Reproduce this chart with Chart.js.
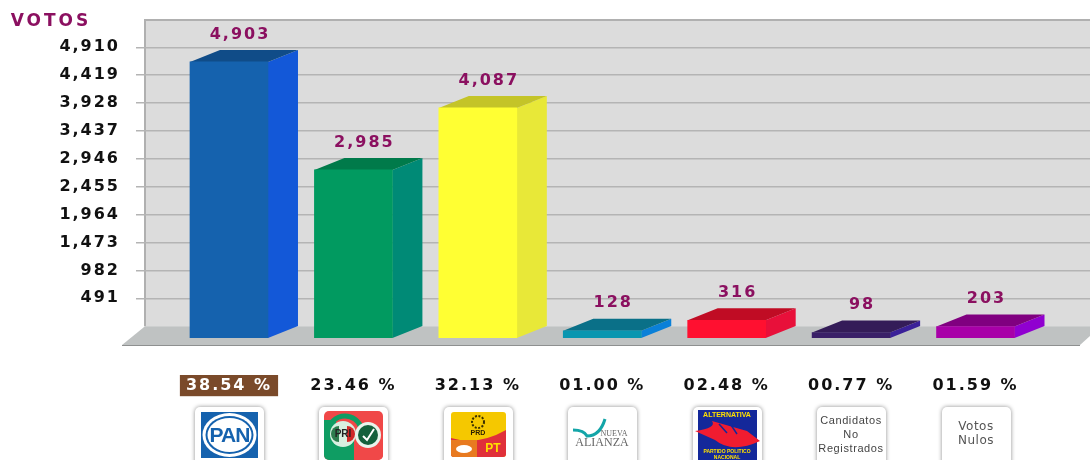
<!DOCTYPE html>
<html>
<head>
<meta charset="utf-8">
<title>Votos</title>
<script src="https://cdn.jsdelivr.net/npm/chart.js@4"></script>
<style>
  html, body { margin: 0; padding: 0; background: #fff; overflow: hidden; }
  canvas { display: block; }
</style>
</head>
<body>
<canvas id="chart" width="1090" height="460"></canvas>
<script>
const categories = ['PAN', 'PRI-PVEM', 'PRD-PT', 'Nueva Alianza', 'Alternativa', 'Candidatos No Registrados', 'Votos Nulos']
const votes = [4903, 2985, 4087, 128, 316, 98, 203]
const percents = ['38.54 %', '23.46 %', '32.13 %', '01.00 %', '02.48 %', '00.77 %', '01.59 %']
const tickValues = [491, 982, 1473, 1964, 2455, 2946, 3437, 3928, 4419, 4910]

const frontColors = ['#1562ae', '#019a60', '#ffff33', '#0a96b0', '#ff1030', '#3a2068', '#a800a8']
const sideColors = ['#1358d8', '#008a76', '#e8e838', '#0a80d8', '#e8103a', '#3a2098', '#9000d0']
const topColors = ['#104c88', '#007a4a', '#c4c428', '#0a7088', '#c00c24', '#341c58', '#800080']

const PURPLE = '#8b1060'
const DEPTH_X = 30
const DEPTH_Y = 12
const SPACING = '2px'

function roundRect(ctx, x, y, w, h, r) {
  ctx.beginPath()
  ctx.roundRect(x, y, w, h, r)
}

function centerText(ctx, text, x, y, font, color) {
  ctx.font = font
  ctx.fillStyle = color
  ctx.textAlign = 'center'
  ctx.textBaseline = 'middle'
  ctx.fillText(text, x, y)
}

// small party logos under the percentages
const logos = {
  'PAN'(ctx, c) {
    ctx.fillStyle = '#1562ae'
    ctx.fillRect(c - 28, 412, 57, 46)
    ctx.fillStyle = '#fff'
    ctx.beginPath(); ctx.ellipse(c + 0.5, 435, 27, 22, 0, 0, Math.PI * 2); ctx.fill()
    ctx.fillStyle = '#1562ae'
    ctx.beginPath(); ctx.ellipse(c + 0.5, 435, 24, 19, 0, 0, Math.PI * 2); ctx.fill()
    ctx.fillStyle = '#fff'
    ctx.beginPath(); ctx.ellipse(c + 0.5, 435, 22, 17, 0, 0, Math.PI * 2); ctx.fill()
    ctx.letterSpacing = '-1px'
    centerText(ctx, 'PAN', c + 0.5, 436, 'bold 21px "Liberation Sans"', '#1562ae')
  },
  'PRI-PVEM'(ctx, c) {
    roundRect(ctx, c - 29, 411, 59, 49, 5)
    ctx.save(); ctx.clip()
    ctx.fillStyle = '#f04848'
    ctx.fillRect(c - 29, 411, 59, 49)
    ctx.fillStyle = '#0f9d63'
    ctx.fillRect(c - 29, 440, 30, 20)
    ctx.fillRect(c - 29, 420, 12, 20)
    ctx.fillStyle = '#f04848'
    ctx.fillRect(c + 1, 444, 29, 16)
    ctx.strokeStyle = '#0f9d63'
    ctx.lineWidth = 5
    ctx.beginPath(); ctx.arc(c - 8, 433, 17, Math.PI, Math.PI * 1.9); ctx.stroke()
    ctx.restore()
    ctx.fillStyle = '#d8efe0'
    ctx.beginPath(); ctx.arc(c - 10, 434, 13, 0, Math.PI * 2); ctx.fill()
    ctx.fillStyle = '#2e7d4e'
    ctx.beginPath(); ctx.arc(c - 14, 434, 8, Math.PI / 2, Math.PI * 1.5); ctx.fill()
    ctx.fillStyle = '#d02828'
    ctx.beginPath(); ctx.arc(c - 6, 434, 8, -Math.PI / 2, Math.PI / 2); ctx.fill()
    centerText(ctx, 'PRI', c - 10, 434, 'bold 10px "Liberation Sans"', '#222')
    ctx.fillStyle = '#e8f4ec'
    ctx.beginPath(); ctx.arc(c + 15, 435, 13, 0, Math.PI * 2); ctx.fill()
    ctx.fillStyle = '#14603c'
    ctx.beginPath(); ctx.arc(c + 15, 435, 10, 0, Math.PI * 2); ctx.fill()
    ctx.strokeStyle = '#fff'
    ctx.lineWidth = 2
    ctx.beginPath(); ctx.moveTo(c + 10, 436); ctx.lineTo(c + 14, 440); ctx.lineTo(c + 21, 429); ctx.stroke()
  },
  'PRD-PT'(ctx, c) {
    roundRect(ctx, c - 27, 412, 55, 45, 3)
    ctx.save(); ctx.clip()
    ctx.fillStyle = '#f5c800'
    ctx.fillRect(c - 27, 412, 55, 45)
    ctx.fillStyle = '#e0303a'
    ctx.beginPath()
    ctx.moveTo(c - 27, 438)
    ctx.quadraticCurveTo(c, 446, c + 28, 430)
    ctx.lineTo(c + 28, 457); ctx.lineTo(c - 27, 457)
    ctx.fill()
    ctx.fillStyle = '#e87a20'
    ctx.fillRect(c - 27, 440, 26, 17)
    ctx.restore()
    ctx.strokeStyle = '#3a3000'
    ctx.lineWidth = 2
    ctx.setLineDash([2, 1.5])
    ctx.beginPath(); ctx.arc(c, 422, 6, 0, Math.PI * 2); ctx.stroke()
    ctx.setLineDash([])
    centerText(ctx, 'PRD', c, 433, 'bold 7px "Liberation Sans"', '#2a2000')
    centerText(ctx, 'PT', c + 15, 449, 'bold 12px "Liberation Sans"', '#ffe000')
    ctx.fillStyle = '#fff'
    ctx.beginPath(); ctx.ellipse(c - 14, 449, 8, 4, 0, 0, Math.PI * 2); ctx.fill()
  },
  'Nueva Alianza'(ctx, c) {
    ctx.strokeStyle = '#14a5a8'
    ctx.lineWidth = 3
    ctx.beginPath()
    ctx.moveTo(c - 29, 430)
    ctx.quadraticCurveTo(c - 18, 430, c - 15, 436)
    ctx.quadraticCurveTo(c - 2, 436, c + 3, 419)
    ctx.stroke()
    centerText(ctx, 'NUEVA', c + 12, 434, '8px "Liberation Serif"', '#666')
    centerText(ctx, 'ALIANZA', c, 443, '12px "Liberation Serif"', '#666')
  },
  'Alternativa'(ctx, c) {
    ctx.fillStyle = '#14289a'
    ctx.fillRect(c - 29, 410, 59, 50)
    centerText(ctx, 'ALTERNATIVA', c, 415, 'bold 7px "Liberation Sans"', '#ffe000')
    ctx.fillStyle = '#f01c30'
    ctx.beginPath()
    ctx.moveTo(c - 32, 431)
    ctx.quadraticCurveTo(c - 10, 428, c - 15, 421)
    ctx.lineTo(c + 20, 431)
    ctx.lineTo(c + 33, 441)
    ctx.quadraticCurveTo(c + 5, 454, c - 12, 440)
    ctx.closePath()
    ctx.fill()
    ctx.strokeStyle = '#14289a'
    ctx.lineWidth = 1.5
    ctx.beginPath(); ctx.moveTo(c - 8, 424); ctx.lineTo(c, 433); ctx.moveTo(c + 4, 425); ctx.lineTo(c + 10, 434); ctx.stroke()
    centerText(ctx, 'PARTIDO POLITICO', c, 452, 'bold 5px "Liberation Sans"', '#ffe000')
    centerText(ctx, 'NACIONAL', c, 458, 'bold 5px "Liberation Sans"', '#ffe000')
  },
  'Candidatos No Registrados'(ctx, c) {
    const font = '11px "Liberation Sans"'
    ctx.letterSpacing = '0.6px'
    centerText(ctx, 'Candidatos', c, 421, font, '#444')
    centerText(ctx, 'No', c, 435, font, '#444')
    centerText(ctx, 'Registrados', c, 449, font, '#444')
  },
  'Votos Nulos'(ctx, c) {
    const font = '12px "DejaVu Sans"'
    ctx.letterSpacing = '0.5px'
    centerText(ctx, 'Votos', c, 427, font, '#555')
    centerText(ctx, 'Nulos', c, 441, font, '#555')
  }
}

const setSpacing = {
  id: 'setSpacing',
  beforeUpdate(chart) { chart.ctx.letterSpacing = SPACING },
  beforeDraw(chart) { chart.ctx.letterSpacing = SPACING }
}

// back wall and floor
const stage = {
  id: 'stage',
  beforeDraw(chart) {
    const { ctx, chartArea: a, scales } = chart
    const floorBack = scales.wall.getPixelForValue(0)
    ctx.save()
    ctx.fillStyle = '#dcdcdc'
    ctx.fillRect(a.left, a.top, a.right - a.left, floorBack - a.top)
    ctx.strokeStyle = '#b0b0b0'
    ctx.lineWidth = 2
    ctx.beginPath()
    ctx.moveTo(a.left, floorBack)
    ctx.lineTo(a.left, a.top)
    ctx.lineTo(a.right, a.top)
    ctx.stroke()
    ctx.fillStyle = '#bfc2c2'
    ctx.beginPath()
    ctx.moveTo(a.left, floorBack)
    ctx.lineTo(a.right, floorBack)
    ctx.lineTo(a.right, a.bottom - 2)
    ctx.lineTo(a.right - 10, a.bottom + 7)
    ctx.lineTo(a.left - 23, a.bottom + 7)
    ctx.closePath()
    ctx.fill()
    ctx.strokeStyle = '#8e9090'
    ctx.lineWidth = 1
    ctx.beginPath()
    ctx.moveTo(a.left - 23, a.bottom + 7.5)
    ctx.lineTo(a.right - 10, a.bottom + 7.5)
    ctx.stroke()
    ctx.restore()
  }
}

// top and side faces of the bars, value labels, logo cards
const bars3d = {
  id: 'bars3d',
  beforeDatasetsDraw(chart) {
    const { ctx } = chart
    ctx.save()
    chart.getDatasetMeta(0).data.forEach((bar, i) => {
      const left = bar.x - bar.width / 2
      const right = bar.x + bar.width / 2
      ctx.fillStyle = sideColors[i]
      ctx.beginPath()
      ctx.moveTo(right, bar.y)
      ctx.lineTo(right + DEPTH_X, bar.y - DEPTH_Y)
      ctx.lineTo(right + DEPTH_X, bar.base - DEPTH_Y)
      ctx.lineTo(right, bar.base)
      ctx.closePath()
      ctx.fill()
      ctx.fillStyle = topColors[i]
      ctx.beginPath()
      ctx.moveTo(left, bar.y)
      ctx.lineTo(left + DEPTH_X, bar.y - DEPTH_Y)
      ctx.lineTo(right + DEPTH_X, bar.y - DEPTH_Y)
      ctx.lineTo(right, bar.y)
      ctx.closePath()
      ctx.fill()
    })
    ctx.restore()
  },
  afterDraw(chart) {
    const { ctx } = chart
    ctx.save()
    ctx.letterSpacing = '3px'
    centerText(ctx, 'VOTOS', 51, 22, 'bold 17px "DejaVu Sans"', PURPLE)
    ctx.letterSpacing = SPACING
    chart.getDatasetMeta(0).data.forEach((bar, i) => {
      const label = votes[i].toLocaleString('en-US')
      centerText(ctx, label, bar.x + 11, bar.y - 27.5, 'bold 16px "DejaVu Sans"', PURPLE)
    })
    chart.getDatasetMeta(0).data.forEach((bar, i) => {
      const c = Math.round(bar.x)
      ctx.save()
      ctx.letterSpacing = '0px'
      ctx.shadowColor = 'rgba(0,0,0,0.45)'
      ctx.shadowBlur = 4
      ctx.fillStyle = '#fff'
      roundRect(ctx, c - 34, 407, 69, 70, 5)
      ctx.fill()
      ctx.restore()
      ctx.save()
      ctx.letterSpacing = '0px'
      logos[categories[i]](ctx, c)
      ctx.restore()
    })
    ctx.restore()
  }
}

new Chart(document.getElementById('chart'), {
  type: 'bar',
  data: {
    datasets: [{
      data: votes.map((y, x) => ({ x, y })),
      backgroundColor: frontColors,
      barThickness: 78,
      yAxisID: 'y'
    }]
  },
  plugins: [setSpacing, stage, bars3d],
  options: {
    responsive: false,
    animation: false,
    layout: { padding: { top: 20, left: 0, right: 0, bottom: 0 } },
    plugins: { legend: { display: false }, tooltip: { enabled: false } },
    scales: {
      x: {
        type: 'linear',
        offset: false,
        min: -0.675,
        max: 6.92,
        grid: { display: false },
        border: { display: false },
        afterBuildTicks(axis) { axis.ticks = votes.map((v, i) => ({ value: i })) },
        afterFit(axis) { axis.height = 122; axis.paddingLeft = 0; axis.paddingRight = 0 },
        ticks: {
          autoSkip: false,
          maxRotation: 0,
          padding: 30,
          font: { family: '"DejaVu Sans"', size: 16, weight: 'bold' },
          color: ctx => ctx.index === 0 ? '#fff' : '#111',
          showLabelBackdrop: ctx => ctx.index === 0,
          backdropColor: '#7a4a2a',
          backdropPadding: { x: 6, y: 1 },
          callback: value => percents[value]
        }
      },
      y: {
        display: false,
        min: 0,
        max: 5648
      },
      wall: {
        position: 'left',
        min: -208,
        max: 5391,
        afterBuildTicks(axis) { axis.ticks = tickValues.map(value => ({ value })) },
        afterFit(axis) { axis.width = 145; axis.paddingTop = 0; axis.paddingBottom = 0 },
        grid: { color: '#b4b4b4', lineWidth: 1.5, tickLength: 9, tickColor: '#b4b4b4' },
        border: { display: false },
        ticks: {
          autoSkip: false,
          padding: 16,
          color: '#111',
          font: { family: '"DejaVu Sans"', size: 16, weight: 'bold' },
          callback: value => value.toLocaleString('en-US')
        }
      }
    }
  }
})
</script>
</body>
</html>
